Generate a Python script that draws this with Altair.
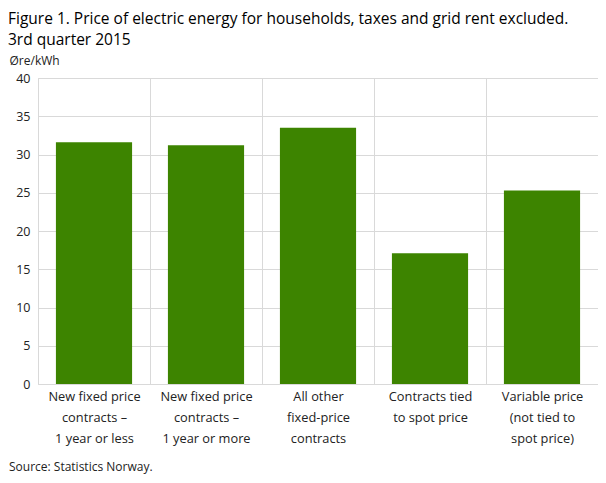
import altair as alt
import pandas as pd

categories = [
    "New fixed price|contracts –|1 year or less",
    "New fixed price|contracts –|1 year or more",
    "All other|fixed-price|contracts",
    "Contracts tied|to spot price",
    "Variable price|(not tied to|spot price)",
]
values = [31.6, 31.2, 33.5, 17.1, 25.3]
y_ticks = [0, 5, 10, 15, 20, 25, 30, 35, 40]
title_lines = [
    "Figure 1. Price of electric energy for households, taxes and grid rent excluded.",
    "3rd quarter 2015",
]
y_unit = "Øre/kWh"
source = "Source: Statistics Norway."

df = pd.DataFrame({"cat": categories, "val": values})
FONT = "Open Sans"
W, H = 560, 306
LEFT = 30

bars = alt.Chart(df).mark_bar(color="#3d8400", width=alt.RelativeBandSize(0.68)).encode(
    x=alt.X(
        "cat:N",
        sort=categories,
        title=None,
        scale=alt.Scale(paddingInner=0, paddingOuter=0),
        axis=alt.Axis(
            labelExpr="split(datum.label, '|')",
            labelAngle=0,
            labelFont=FONT,
            labelFontSize=12.8,
            labelColor="#222",
            labelLineHeight=21,
            labelPadding=6,
            labelBaseline="top",
            ticks=False,
            domain=False,
            grid=True,
            tickBand="extent",
            gridColor="#d9d9d9",
        ),
    ),
    y=alt.Y(
        "val:Q",
        scale=alt.Scale(domain=[0, 40], nice=False),
        axis=alt.Axis(
            values=y_ticks,
            title=y_unit,
            titleAngle=0,
            titleAlign="left",
            titleBaseline="alphabetic",
            titleX=-LEFT + 1,
            titleY=-14,
            titleFont=FONT,
            titleFontSize=12,
            titleFontWeight="normal",
            titleColor="#222",
            labelFont=FONT,
            labelFontSize=12.5,
            labelColor="#222",
            labelPadding=8,
            ticks=False,
            domain=False,
            gridColor="#d9d9d9",
        ),
    ),
)

src = alt.Chart(pd.DataFrame({"t": [source]})).mark_text(
    align="left", baseline="alphabetic", font=FONT, fontSize=12, color="#222"
).encode(text="t:N", x=alt.value(-LEFT + 1), y=alt.value(H + 87))

chart = alt.layer(bars, src).properties(
    width=W,
    height=H,
    autosize=alt.AutoSizeParams(type="none"),
    padding={"left": LEFT, "top": 70, "right": 0, "bottom": 91},
    title=alt.TitleParams(
        text=title_lines,
        anchor="start",
        frame="group",
        dx=-LEFT,
        font=FONT,
        fontSize=15.5,
        fontWeight="normal",
        color="#000",
        lineHeight=21,
        offset=6,
    ),
).configure_view(stroke="#d9d9d9")

chart.save("out.html", embed_options={"renderer": "svg", "actions": False})
